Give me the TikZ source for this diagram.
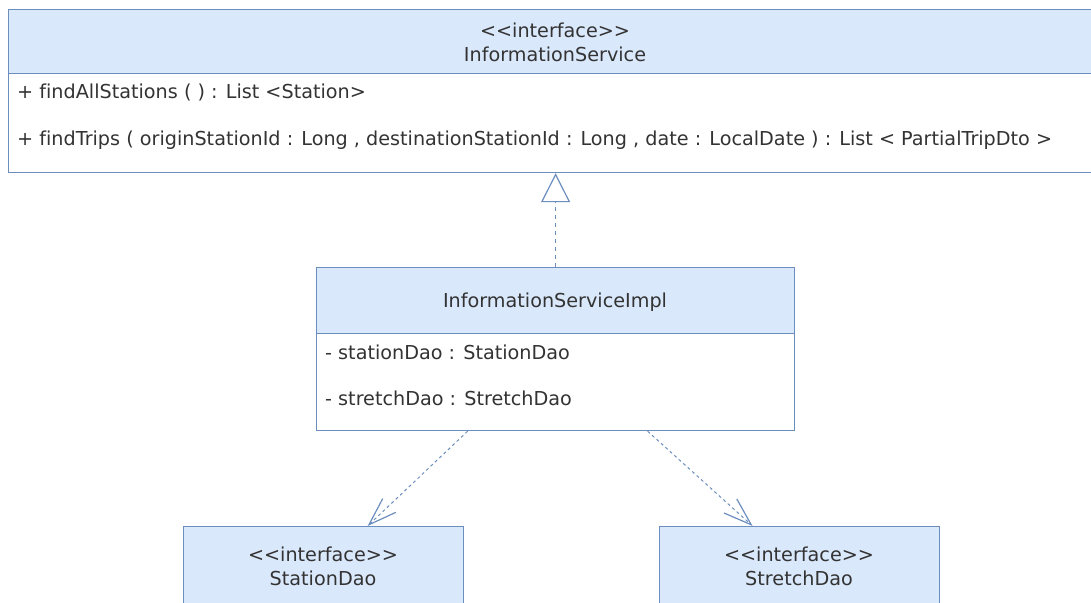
\documentclass[tikz,border=0pt]{standalone}
\usepackage{fontspec}
\newfontfamily\umlfont[Ligatures=NoCommon]{DejaVu Sans}
\usetikzlibrary{arrows.meta,calc}

\definecolor{umlline}{HTML}{6C8EBF}
\definecolor{umlfill}{HTML}{DAE8FC}
\definecolor{umltext}{HTML}{333333}

% stereotype brackets kept as separate boxes so no ligature is formed
\newcommand\stereo[1]{\mbox{<}\mbox{<}#1\mbox{>}\mbox{>}}

\begin{document}
\begin{tikzpicture}[x=1pt,y=-1pt,
  hdr/.style={draw=umlline, fill=umlfill, line width=1.2pt, inner sep=0pt, anchor=north west},
  compart/.style={draw=umlline, fill=white, line width=1.2pt, inner sep=0pt, anchor=north west},
  lbl/.style={text=umltext, inner sep=0pt, font=\umlfont\fontsize{19.2pt}{22pt}\selectfont, anchor=base},
  member/.style={lbl, anchor=base west},
  depend/.style={draw=umlline, line width=1pt, dash pattern=on 3pt off 3pt,
    -{Straight Barb[length=28pt,width=19pt,line width=1.2pt]}},
  realize/.style={draw=umlline, line width=1.2pt, dash pattern=on 4pt off 4pt,
    -{Triangle[open,length=29pt,width=29pt,fill=white,line width=1.2pt]}}
]
\useasboundingbox (0,0) rectangle (1091,602);
\begin{scope}
\clip (0,0) rectangle (1091,602);

% InformationService interface
\node[compart, minimum width=1094pt, minimum height=99pt] (svcbody) at (8,73) {};
\node[hdr, minimum width=1094pt, minimum height=64pt] (svc) at (8,9) {};
\node[lbl] (svcst) at (555,37.7) {\stereo{interface}};
\node[lbl] (svcname) at (555,61.7) {InformationService};
\node[member] (m1) at (17,98.3) {+ findAllStations ( ) : List <Station>};
\node[member] (m2) at (17,145) {+ findTrips ( originStationId : Long , destinationStationId : Long , date : LocalDate ) : List < PartialTripDto >};

% InformationServiceImpl class
\node[compart, minimum width=478pt, minimum height=97pt] (implbody) at (316,333) {};
\node[hdr, minimum width=478pt, minimum height=66pt] (impl) at (316,267) {};
\node[lbl] (implname) at (555,307.7) {InformationServiceImpl};
\node[member] (a1) at (325,359.3) {- stationDao : StationDao};
\node[member] (a2) at (325,405.3) {- stretchDao : StretchDao};

% DAO interfaces
\node[hdr, minimum width=280pt, minimum height=100pt] (sdao) at (183,526) {};
\node[lbl] (sdaost) at (323,561.7) {\stereo{interface}};
\node[lbl] (sdaoname) at (323,585) {StationDao};

\node[hdr, minimum width=280pt, minimum height=100pt] (tdao) at (659,526) {};
\node[lbl] (tdaost) at (799,561.7) {\stereo{interface}};
\node[lbl] (tdaoname) at (799,585) {StretchDao};

% realization
\draw[realize] (impl.north) -- (svcbody.south);

% dependencies
\coordinate (d1s) at ($(implbody.south)+(-88,0)$);
\coordinate (d1t) at ($(sdao.north)+(44,0)$);
\coordinate (d2s) at ($(implbody.south)+(92,0)$);
\coordinate (d2t) at ($(tdao.north)+(-47,0)$);
\draw[depend] (d1s) -- (d1t);
\draw[depend] (d2s) -- (d2t);
\end{scope}
\end{tikzpicture}
\end{document}
